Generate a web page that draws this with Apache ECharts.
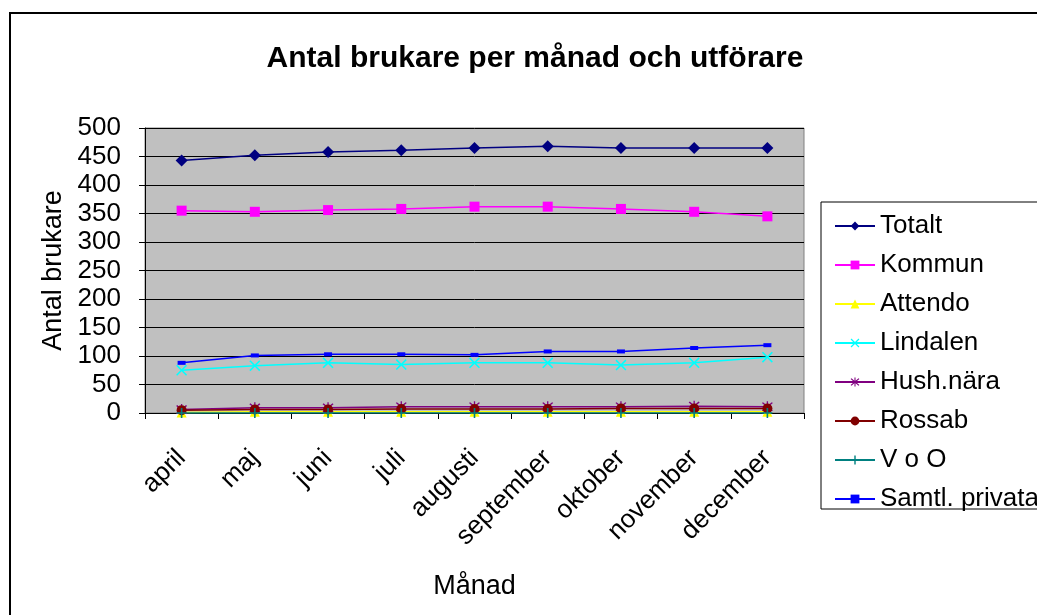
<!DOCTYPE html>
<html>
<head>
<meta charset="utf-8">
<script src="https://cdn.jsdelivr.net/npm/echarts@6/dist/echarts.min.js"></script>
<style>
html,body{margin:0;padding:0;background:#fff;}
#c{width:1037px;height:615px;}
</style>
</head>
<body>
<div id="c"></div>
<script>
const months = ['april','maj','juni','juli','augusti','september','oktober','november','december'];
const totalt   = [443, 452, 458, 461, 465, 468, 465, 465, 465];
const kommun   = [355, 353, 356, 358, 362, 362, 358, 353, 345];
const attendo  = [1, 2, 2, 2, 2, 2, 2, 2, 2];
const lindalen = [75, 83, 88, 85, 88, 88, 84, 88, 98];
const hushnara = [6, 9, 9, 11, 11, 11, 11, 12, 11];
const rossab   = [5, 6, 6, 7, 7, 7, 8, 8, 8];
const voo      = [0, 0, 0, 0, 0, 0, 0, 0, 0];
const samtl    = [88, 101, 103, 103, 102, 108, 108, 114, 119];
const yTicks   = [0, 50, 100, 150, 200, 250, 300, 350, 400, 450, 500];

const FONT = '"Liberation Sans", Arial, sans-serif';
const X_PATH = 'path://M0,1L1,0L5,4L9,0L10,1L6,5L10,9L9,10L5,6L1,10L0,9L4,5Z';
const STAR_PATH = 'path://M0,1L1,0L5,4L9,0L10,1L6,5L10,9L9,10L5,6L1,10L0,9L4,5Z M4.4,-1L5.6,-1L5.6,11L4.4,11Z';
const PLUS_PATH = 'path://M4.2,0L5.8,0L5.8,4.2L10,4.2L10,5.8L5.8,5.8L5.8,10L4.2,10L4.2,5.8L0,5.8L0,4.2L4.2,4.2Z';

function mk(name, data, color, symbol, size, width) {
  return {
    name, type: 'line', data,
    symbol, symbolSize: size,
    itemStyle: {color},
    lineStyle: {color, width: width || 1.5},
    emphasis: {disabled: true},
    animation: false
  };
}

const chart = echarts.init(document.getElementById('c'));
chart.setOption({
  backgroundColor: '#fff',
  animation: false,
  title: {
    text: 'Antal brukare per månad och utförare',
    left: 530, top: 39, textAlign: 'center',
    textStyle: {fontFamily: FONT, fontSize: 30, fontWeight: 'bold', color: '#000'}
  },
  graphic: [
    {type: 'rect', shape: {x: 10, y: 13, width: 1040, height: 620}, style: {fill: 'none', stroke: '#000', lineWidth: 2}, z: -1},
    {type: 'rect', shape: {x: 821, y: 202, width: 230, height: 307}, style: {fill: '#fff', stroke: '#000', lineWidth: 1}, z: 0}
  ],
  legend: {
    orient: 'vertical',
    left: 829, top: 208,
    itemWidth: 40, itemHeight: 11,
    itemGap: 13,
    textStyle: {fontFamily: FONT, fontSize: 26, lineHeight: 26, color: '#000'},
    z: 5
  },
  grid: {
    left: 145, top: 128, width: 659, height: 285,
    show: true, backgroundColor: '#c0c0c0', borderColor: '#808080', borderWidth: 1,
    containLabel: false
  },
  xAxis: {
    type: 'category', data: months, boundaryGap: true,
    name: 'Månad', nameLocation: 'middle', nameGap: 160,
    nameTextStyle: {fontFamily: FONT, fontSize: 27, color: '#000'},
    axisLine: {lineStyle: {color: '#000', width: 1}},
    axisTick: {show: true, length: 6, lineStyle: {color: '#000'}},
    axisLabel: {rotate: 45, margin: 41, fontFamily: FONT, fontSize: 26, color: '#000', interval: 0},
    splitLine: {show: false}
  },
  yAxis: {
    type: 'value', min: 0, max: 500, interval: 50,
    name: 'Antal brukare', nameLocation: 'middle', nameGap: 77, nameRotate: 90,
    nameTextStyle: {fontFamily: FONT, fontSize: 27, color: '#000'},
    axisLine: {show: true, lineStyle: {color: '#000', width: 1}},
    axisTick: {show: true, length: 6, lineStyle: {color: '#000'}},
    axisLabel: {margin: 24, fontFamily: FONT, fontSize: 26, color: '#000',
      formatter: v => yTicks.includes(v) ? String(v) : ''},
    splitLine: {show: true, lineStyle: {color: '#000', width: 1}}
  },
  series: [
    mk('Totalt', totalt, '#000080', 'diamond', 12),
    mk('Kommun', kommun, '#ff00ff', 'rect', 10),
    mk('Attendo', attendo, '#ffff00', 'triangle', 10),
    mk('Lindalen', lindalen, '#00ffff', X_PATH, 11),
    mk('Hush.nära', hushnara, '#800080', STAR_PATH, 11),
    mk('Rossab', rossab, '#800000', 'circle', 10),
    mk('V o O', voo, '#008080', PLUS_PATH, 10),
    mk('Samtl. privata', samtl, '#0000ff', 'rect', [8, 4])
  ]
});
</script>
</body>
</html>
